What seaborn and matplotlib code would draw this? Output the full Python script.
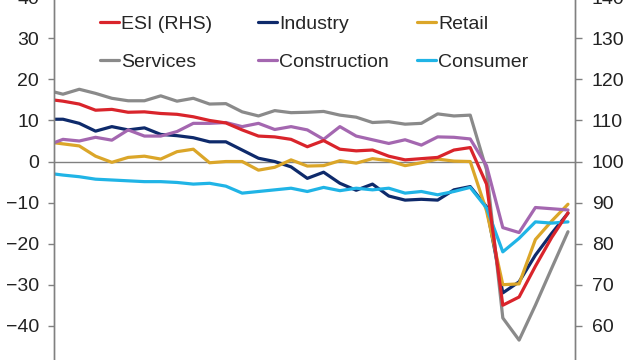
import numpy as np
import pandas as pd
import matplotlib
matplotlib.use('Agg')
import matplotlib.pyplot as plt
from matplotlib.lines import Line2D
import seaborn as sns

# Monthly survey balances, Dec 2017 - Aug 2020
months = pd.date_range('2017-12-01', '2020-08-01', freq='MS').strftime('%b %Y').tolist()

esi = [115.2, 114.7, 114.0, 112.5, 112.7, 112.0, 112.1, 111.7, 111.5, 110.9,
       110.0, 109.4, 107.7, 106.2, 106.0, 105.4, 103.6, 105.1, 103.0, 102.6,
       102.8, 101.3, 100.4, 100.7, 101.0, 102.8, 103.4, 94.5, 65.0, 67.0,
       74.5, 81.5, 87.5]
industry = [10.3, 10.3, 9.3, 7.4, 8.5, 7.7, 8.2, 6.6, 6.3, 5.8,
            4.8, 4.8, 2.8, 0.8, 0.0, -1.3, -4.1, -2.6, -5.3, -7.0,
            -5.5, -8.4, -9.4, -9.2, -9.4, -6.9, -6.1, -11.0, -32.0, -29.3,
            -22.8, -17.5, -12.6]
retail = [4.8, 4.3, 3.8, 1.3, -0.2, 1.0, 1.3, 0.6, 2.4, 3.0,
          -0.3, 0.0, 0.0, -2.1, -1.4, 0.4, -1.1, -1.0, 0.2, -0.4,
          0.7, 0.2, -1.0, -0.3, 0.6, 0.1, 0.0, -12.0, -30.0, -29.8,
          -19.0, -14.5, -10.4]
services = [17.4, 16.4, 17.6, 16.6, 15.4, 14.8, 14.8, 16.0, 14.7, 15.4,
            14.0, 14.1, 12.1, 11.1, 12.4, 11.9, 12.0, 12.2, 11.3, 10.8,
            9.5, 9.7, 9.1, 9.3, 11.6, 11.1, 11.3, -2.0, -38.1, -43.5,
            -35.0, -26.0, -17.1]
construction = [3.9, 5.4, 5.0, 5.9, 5.2, 7.7, 6.2, 6.2, 7.3, 9.3,
                9.3, 9.5, 8.5, 9.3, 7.8, 8.5, 7.7, 5.4, 8.5, 6.2,
                5.3, 4.4, 5.3, 4.0, 6.0, 5.9, 5.5, -1.0, -16.1, -17.3,
                -11.2, -11.5, -11.8]
consumer = [-2.8, -3.3, -3.7, -4.3, -4.5, -4.7, -4.9, -4.9, -5.1, -5.5,
            -5.3, -6.0, -7.7, -7.3, -6.9, -6.5, -7.3, -6.3, -7.1, -6.5,
            -6.9, -6.5, -7.7, -7.3, -8.1, -7.3, -6.3, -11.3, -22.0, -18.7,
            -14.7, -15.0, -14.7]

colors = {
    'ESI (RHS)': '#D9242B',
    'Industry': '#0E2A6B',
    'Retail': '#DBA629',
    'Services': '#8A8A8A',
    'Construction': '#A467B0',
    'Consumer': '#20B4E6',
}

sns.set_style('white')
plt.rcParams['font.family'] = ['Liberation Sans', 'DejaVu Sans']

pos = np.arange(len(months))
df = pd.DataFrame({'pos': pos, 'Industry': industry, 'Retail': retail,
                   'Services': services, 'Construction': construction,
                   'Consumer': consumer})
long = df.melt(id_vars='pos', var_name='series', value_name='value')

fig = plt.figure(figsize=(6.4, 3.6), dpi=100)
ax = fig.add_axes([0.0844, -0.0189, 0.814, 1.0264])

ax.axhline(0, color='#808080', lw=1.0, zorder=1)
sns.lineplot(data=long, x='pos', y='value', hue='series', palette=colors,
             lw=2.3, ax=ax, legend=False)

ax2 = ax.twinx()
sns.lineplot(x=pos, y=esi, color=colors['ESI (RHS)'], lw=2.3, ax=ax2)

ax.set_xlim(0.45, 32.43)
ax.set_ylim(-50, 40)
ax.set_yticks(range(-50, 41, 10))
ax2.set_ylim(50, 140)
ax2.set_yticks(range(50, 141, 10))
ax.set_xticks([])
ax.set_xlabel('')
ax.set_ylabel('')
ax2.set_ylabel('')

for a in (ax, ax2):
    for s in ('top', 'bottom'):
        a.spines[s].set_visible(False)
    for s in ('left', 'right'):
        a.spines[s].set_color('#808080')
        a.spines[s].set_linewidth(1.0)
ax.tick_params(axis='y', left=True, length=4.3, width=1.0, color='#808080',
               pad=6.5, labelsize=14, labelcolor='#222222')
ax2.tick_params(axis='y', right=True, length=5, width=1.0, color='#808080',
                pad=7, labelsize=14, labelcolor='#222222')

# legend: three columns placed like the original
columns = [(['ESI (RHS)', 'Services'], 100),
           (['Industry', 'Construction'], 258),
           (['Retail', 'Consumer'], 417)]
for labels, xpix in columns:
    handles = [Line2D([], [], color=colors[l], lw=2.3) for l in labels]
    fig.legend(handles, labels, loc='upper left',
               bbox_to_anchor=(xpix / 640, 0.957), frameon=False,
               fontsize=14, handlelength=1.0, handletextpad=0.1,
               borderpad=0, borderaxespad=0, labelspacing=1.02)

fig.savefig('out.png', dpi=100)
